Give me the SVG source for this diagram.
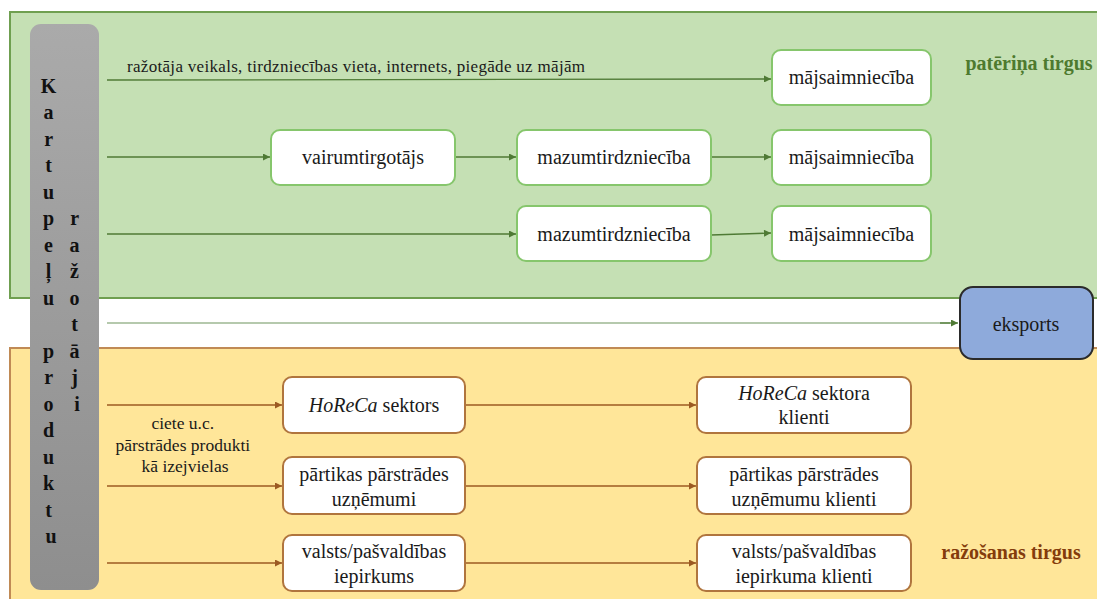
<svg xmlns="http://www.w3.org/2000/svg" width="1097" height="599" viewBox="0 0 1097 599">
<style>
  text { font-family: "Liberation Serif", "DejaVu Serif", serif; fill: #1a1a1a; }
  .node text { font-size: 20px; text-anchor: middle; }
  .gbox { fill: #ffffff; stroke: #86c66c; stroke-width: 2; }
  .ybox { fill: #ffffff; stroke: #b0753e; stroke-width: 2; }
  .gline { stroke: #4f7a35; stroke-width: 1.3; fill: none; marker-end: url(#ag); }
  .yline { stroke: #9c5a22; stroke-width: 1.3; fill: none; marker-end: url(#ay); }
  .vert { font-size: 20px; font-weight: bold; text-anchor: middle; fill: #111; }
</style>
<defs>
  <marker id="ag" viewBox="0 0 10 10" refX="10" refY="5" markerWidth="9" markerHeight="7" markerUnits="userSpaceOnUse" orient="auto">
    <path d="M0,0 L10,5 L0,10 z" fill="#4f7a35"/>
  </marker>
  <marker id="ay" viewBox="0 0 10 10" refX="10" refY="5" markerWidth="9" markerHeight="7" markerUnits="userSpaceOnUse" orient="auto">
    <path d="M0,0 L10,5 L0,10 z" fill="#9c5a22"/>
  </marker>
  <linearGradient id="gray" x1="0" y1="0" x2="0" y2="1">
    <stop offset="0" stop-color="#aaaaaa"/>
    <stop offset="1" stop-color="#8e8e8e"/>
  </linearGradient>
</defs>

<g id="zone-consumer">
  <rect x="10" y="12" width="1095" height="286" fill="#c5e0b4" stroke="#6f9f50" stroke-width="2"/>
  <text x="1029" y="70" font-size="20" font-weight="bold" text-anchor="middle" style="fill:#4e7a2f">patēriņa tirgus</text>
</g>
<g id="zone-production">
  <rect x="10" y="348" width="1095" height="260" fill="#ffe699" stroke="#c08a55" stroke-width="2"/>
  <text x="1011" y="559" font-size="20" font-weight="bold" text-anchor="middle" style="fill:#843c0c">ražošanas tirgus</text>
</g>

<g id="producers">
  <rect x="30" y="24" width="69" height="566" rx="11" fill="url(#gray)"/>
  <text class="vert">
    <tspan x="51" y="93">K</tspan>
    <tspan x="51" y="119">a</tspan>
    <tspan x="51" y="146">r</tspan>
    <tspan x="51" y="172">t</tspan>
    <tspan x="51" y="199">u</tspan>
    <tspan x="51" y="225">p</tspan>
    <tspan x="51" y="252">e</tspan>
    <tspan x="51" y="278">ļ</tspan>
    <tspan x="51" y="305">u</tspan>
    <tspan x="51" y="358">p</tspan>
    <tspan x="51" y="384">r</tspan>
    <tspan x="51" y="411">o</tspan>
    <tspan x="51" y="437">d</tspan>
    <tspan x="51" y="464">u</tspan>
    <tspan x="51" y="490">k</tspan>
    <tspan x="51" y="517">t</tspan>
    <tspan x="51" y="543">u</tspan>
  </text>
  <text class="vert">
    <tspan x="77" y="225">r</tspan>
    <tspan x="77" y="252">a</tspan>
    <tspan x="77" y="278">ž</tspan>
    <tspan x="77" y="305">o</tspan>
    <tspan x="77" y="331">t</tspan>
    <tspan x="77" y="358">ā</tspan>
    <tspan x="77" y="384">j</tspan>
    <tspan x="77" y="411">i</tspan>
  </text>
</g>

<g id="connectors">
  <line class="gline" x1="107" y1="80" x2="771" y2="79"/>
  <line class="gline" x1="107" y1="157" x2="270" y2="157"/>
  <line class="gline" x1="455" y1="157" x2="516" y2="157"/>
  <line class="gline" x1="711" y1="157" x2="771" y2="157"/>
  <line class="gline" x1="107" y1="234" x2="516" y2="234"/>
  <line class="gline" x1="711" y1="235" x2="771" y2="233"/>
  <line x1="107" y1="323" x2="950" y2="323" stroke="#b5c9ad" stroke-width="2"/>
  <line class="gline" x1="940" y1="323" x2="958" y2="323"/>
  <line class="yline" x1="107" y1="405" x2="282" y2="405"/>
  <line class="yline" x1="465" y1="405" x2="696" y2="405"/>
  <line class="yline" x1="107" y1="486" x2="282" y2="486"/>
  <line class="yline" x1="465" y1="486" x2="696" y2="486"/>
  <line class="yline" x1="107" y1="563" x2="282" y2="563"/>
  <line class="yline" x1="465" y1="563" x2="696" y2="563"/>
</g>

<g id="label-direct">
  <text x="127" y="72" font-size="17" textLength="458" lengthAdjust="spacing">ražotāja veikals, tirdzniecības vieta, internets, piegāde uz mājām</text>
</g>
<g id="label-raw">
  <text font-size="17.5" text-anchor="middle">
    <tspan x="185" y="429">ciete u.c.</tspan>
    <tspan x="185" y="451">pārstrādes produkti</tspan>
    <tspan x="185" y="472">kā izejvielas</tspan>
  </text>
</g>

<g id="n-maj1" class="node">
  <rect class="gbox" x="772" y="50" width="159" height="55" rx="9"/>
  <text x="851.5" y="84">mājsaimniecība</text>
</g>
<g id="n-vairum" class="node">
  <rect class="gbox" x="271" y="130" width="184" height="55" rx="9"/>
  <text x="363" y="164">vairumtirgotājs</text>
</g>
<g id="n-mazum1" class="node">
  <rect class="gbox" x="517" y="130" width="194" height="55" rx="9"/>
  <text x="614" y="164">mazumtirdzniecība</text>
</g>
<g id="n-maj2" class="node">
  <rect class="gbox" x="772" y="130" width="159" height="55" rx="9"/>
  <text x="851.5" y="164">mājsaimniecība</text>
</g>
<g id="n-mazum2" class="node">
  <rect class="gbox" x="517" y="206" width="194" height="55" rx="9"/>
  <text x="614" y="241">mazumtirdzniecība</text>
</g>
<g id="n-maj3" class="node">
  <rect class="gbox" x="772" y="206" width="159" height="55" rx="9"/>
  <text x="851.5" y="241">mājsaimniecība</text>
</g>

<g id="n-eksports" class="node">
  <rect x="960" y="287" width="133" height="72" rx="13" fill="#8eaadb" stroke="#2b2b2b" stroke-width="2"/>
  <text x="1026" y="331">eksports</text>
</g>

<g id="n-horeca" class="node">
  <rect class="ybox" x="283" y="377" width="182" height="56" rx="9"/>
  <text x="374" y="412"><tspan font-style="italic">HoReCa</tspan> sektors</text>
</g>
<g id="n-horeca-kl" class="node">
  <rect class="ybox" x="697" y="377" width="214" height="56" rx="9"/>
  <text x="804" y="400"><tspan font-style="italic">HoReCa</tspan> sektora</text>
  <text x="804" y="424">klienti</text>
</g>
<g id="n-partikas" class="node">
  <rect class="ybox" x="283" y="457" width="182" height="57" rx="9"/>
  <text x="374" y="481">pārtikas pārstrādes</text>
  <text x="374" y="506">uzņēmumi</text>
</g>
<g id="n-partikas-kl" class="node">
  <rect class="ybox" x="697" y="457" width="214" height="57" rx="9"/>
  <text x="804" y="481">pārtikas pārstrādes</text>
  <text x="804" y="506">uzņēmumu klienti</text>
</g>
<g id="n-valsts" class="node">
  <rect class="ybox" x="283" y="535" width="182" height="56" rx="9"/>
  <text x="374" y="558">valsts/pašvaldības</text>
  <text x="374" y="583">iepirkums</text>
</g>
<g id="n-valsts-kl" class="node">
  <rect class="ybox" x="697" y="535" width="214" height="56" rx="9"/>
  <text x="804" y="558">valsts/pašvaldības</text>
  <text x="804" y="583">iepirkuma klienti</text>
</g>
</svg>
